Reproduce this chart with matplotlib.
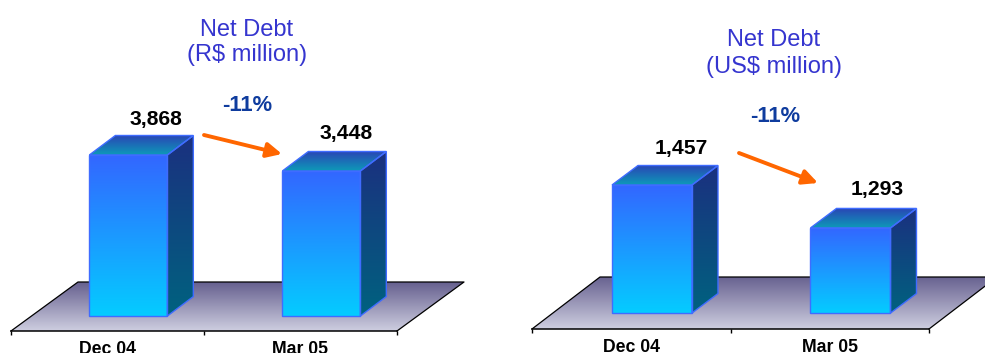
#!/bin/python3
# Net debt charts, two panels with fake 3d bars
import numpy as np
import matplotlib.pyplot as plt
from matplotlib.colors import LinearSegmentedColormap
from matplotlib.patches import Polygon, FancyArrowPatch

plt.rcParams['font.family'] = ['Liberation Sans', 'DejaVu Sans']

W, H = 985, 353

categories = ['Dec 04', 'Mar 05']
brl_values = [3868, 3448]
usd_values = [1457, 1293]
brl_labels = ['3,868', '3,448']
usd_labels = ['1,457', '1,293']
change_label = '-11%'

TITLE_COLOR = '#3535CF'
CHANGE_COLOR = '#0F3C9E'
ARROW_COLOR = '#FF6600'
EDGE_COLOR = '#3F6CFF'


def gradient_poly(ax, verts, top, bottom, zorder):
    """Fill a polygon with a vertical gradient"""
    verts = np.array(verts)
    cmap = LinearSegmentedColormap.from_list('g', [top, bottom])
    grad = np.linspace(0, 1, 256).reshape(-1, 1)
    im = ax.imshow(grad, cmap=cmap, aspect='auto', zorder=zorder, vmin=0, vmax=1,
                   extent=(verts[:, 0].min(), verts[:, 0].max(), verts[:, 1].min(), verts[:, 1].max()))
    clip = Polygon(verts, closed=True, transform=ax.transData)
    im.set_clip_path(clip)
    im.set_clip_box(ax.figure.bbox)


def draw_panel(left, right, floor_y, top_y, back_y, back_shift, ylim, base, values, labels,
               offset, bar_w, title, title_xy, title_gap, label_xy, change_xy, arrow):
    """One panel. All the layout numbers are pixels of the final picture"""
    ax = fig.add_axes([left/W, 1 - floor_y/H, (right-left)/W, (floor_y-top_y)/H])
    ax.set_xlim(0, 2)
    ax.set_ylim(*ylim)
    ax.patch.set_alpha(0)

    px_x = 2 / (right - left)
    px_y = (ylim[1] - ylim[0]) / (floor_y - top_y)

    # floor
    y0 = ylim[0]
    y1 = y0 + (floor_y - back_y) * px_y
    sh = back_shift * px_x
    floor = [(0, y0), (2, y0), (2 + sh, y1), (sh, y1)]
    gradient_poly(ax, floor, '#66608F', '#CECEE0', 1)
    ax.plot([0, sh, 2 + sh, 2], [y0, y1, y1, y0], color='black', lw=0.9, zorder=2, clip_on=False)

    # bars
    dx = 26 * px_x
    dy = 19.5 * px_y
    for i, val in enumerate(values):
        x0 = i + offset
        x1 = x0 + bar_w
        front = [(x0, base), (x1, base), (x1, val), (x0, val)]
        side = [(x1, base), (x1 + dx, base + dy), (x1 + dx, val + dy), (x1, val)]
        cap = [(x0, val), (x1, val), (x1 + dx, val + dy), (x0 + dx, val + dy)]
        gradient_poly(ax, side, '#1B3080', '#00627F', 3)
        gradient_poly(ax, cap, '#2A45B5', '#0D9AB8', 3)
        gradient_poly(ax, front, '#3366FF', '#04CCFF', 4)
        for face in (side, cap, front):
            ax.add_patch(Polygon(face, closed=True, fill=False, ec=EDGE_COLOR, lw=1.0, zorder=5, clip_on=False))

    ax.set_xlim(0, 2)
    ax.set_ylim(*ylim)

    # axis at the front of the floor
    for s in ('top', 'left', 'right'):
        ax.spines[s].set_visible(False)
    ax.spines['bottom'].set_linewidth(1.1)
    ax.spines['bottom'].set_zorder(6)
    ax.set_yticks([])
    ax.set_xticks([0, 1, 2])
    ax.set_xticklabels([])
    ax.tick_params(axis='x', which='major', length=3, width=1)
    ax.set_xticks([0.5, 1.5], minor=True)
    ax.set_xticklabels(categories, minor=True, fontsize=12.7, fontweight='bold')
    ax.tick_params(axis='x', which='minor', length=0, pad=7)

    # text, pixel positions turned into figure fractions
    fig.text(title_xy[0]/W, 1 - title_xy[1]/H, title, color=TITLE_COLOR, fontsize=17,
             ha='center', va='center', linespacing=title_gap)
    for (tx, ty), lab in zip(label_xy, labels):
        fig.text(tx/W, 1 - ty/H, lab, fontsize=15.2, fontweight='bold', color='black', ha='center', va='center')
    fig.text(change_xy[0]/W, 1 - change_xy[1]/H, change_label, fontsize=15.8, fontweight='bold',
             color=CHANGE_COLOR, ha='center', va='center')
    fig.add_artist(FancyArrowPatch(
        (arrow[0]/W, 1 - arrow[1]/H), (arrow[2]/W, 1 - arrow[3]/H), transform=fig.transFigure,
        arrowstyle='-|>,head_length=0.45,head_width=0.22', mutation_scale=20, lw=2.8,
        color=ARROW_COLOR, shrinkA=0, shrinkB=0))


fig = plt.figure(figsize=(W/100, H/100), dpi=100)

draw_panel(11, 397, 331, 80, 282, 67, (-751, 5836), -358, brl_values, brl_labels,
           0.406, 0.404, 'Net Debt\n(R$ million)', (247, 42.5), 1.23,
           [(156, 120), (346, 133)], (247.5, 105.5), (204, 135, 282, 154))

draw_panel(532, 929, 329, 80, 277, 68, (907, 1858), 968, usd_values, usd_labels,
           0.403, 0.403, 'Net Debt\n(US$ million)', (774, 53.5), 1.3,
           [(681, 148), (877, 189)], (775, 117), (739, 153, 818, 183))

fig.savefig('out.png', dpi=100)
